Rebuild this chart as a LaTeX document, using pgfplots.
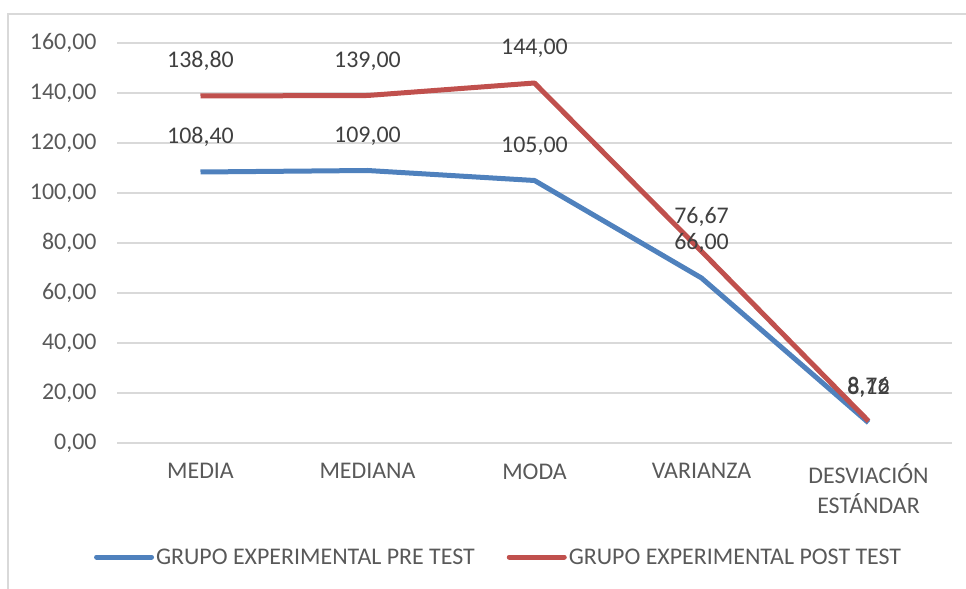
\documentclass[border=0pt]{standalone}
\usepackage{pgfplots}
\pgfplotsset{compat=1.18}
\usepackage{fontspec}
\setmainfont{Carlito}
\definecolor{serblue}{HTML}{4F81BD}
\definecolor{serred}{HTML}{C0504D}
\definecolor{gridc}{HTML}{D9D9D9}
\definecolor{txt}{HTML}{595959}
\definecolor{lbl}{HTML}{404040}
\begin{document}
\begin{tikzpicture}
\begin{axis}[
  at={(117bp,146bp)}, anchor=south west,
  scale only axis, width=835bp, height=400bp,
  xmin=-0.5, xmax=4.5, ymin=0, ymax=160,
  axis line style={draw=none}, tick style={draw=none},
  ytick={0,20,...,160}, ymajorgrids, grid style={gridc, line width=1.5bp},
  xtick={0,...,4},
  xticklabels={MEDIA, MEDIANA, MODA, VARIANZA, {DESVIACIÓN\\ESTÁNDAR}},
  xticklabel style={align=center, text=txt, font=\fontsize{24}{30}\selectfont, yshift=-17bp},
  yticklabel style={text=txt, font=\fontsize{24}{28}\selectfont, xshift=-17bp},
  /pgf/number format/.cd, fixed, fixed zerofill, precision=2, use comma, 1000 sep={}, assume math mode=true,
  /pgfplots/.cd,
  nodes near coords,
  every node near coord/.append style={font=\fontsize{24}{28}\selectfont, text=lbl, anchor=base, yshift=28bp},
  legend columns=2,
  legend cell align=left,
  legend style={at={(0.457,-0.285)}, anchor=center, draw=none, fill=none,
    font=\fontsize{24}{28}\selectfont, text=txt,
    nodes={inner xsep=2bp},
    /tikz/every even column/.append style={column sep=30bp}},
  legend image code/.code={\draw[#1, line width=5bp, line cap=round] (0bp,0bp) -- (55bp,0bp);},
]
\addplot[serblue, line width=5bp, line join=round, mark=none] coordinates {(0,108.4) (1,109) (2,105) (3,66) (4,8.12)};
\addlegendentry{GRUPO EXPERIMENTAL PRE TEST}
\addplot[serred, line width=5bp, line join=round, mark=none] coordinates {(0,138.8) (1,139) (2,144) (3,76.67) (4,8.76)};
\addlegendentry{GRUPO EXPERIMENTAL POST TEST}
\end{axis}
\draw[gridc, line width=1.5bp] (8bp,-5bp) -- (8bp,575bp) -- (980bp,575bp);
\pgfresetboundingbox
\path[use as bounding box] (0bp,0bp) rectangle (966bp,589bp);
\end{tikzpicture}
\end{document}
